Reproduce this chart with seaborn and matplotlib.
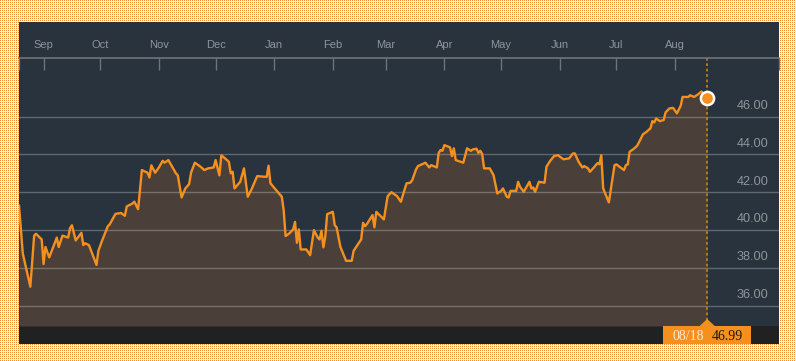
#%% Imports
import numpy as np
import pandas as pd
import matplotlib
matplotlib.use("Agg")
import matplotlib.pyplot as plt
import matplotlib.dates as mdates
import matplotlib.transforms as mtransforms
from matplotlib.patches import Rectangle, Polygon
import seaborn as sns

#%% Data (one year of closing prices)
dates = [
    "2016-08-19", "2016-08-21", "2016-08-25", "2016-08-27", "2016-08-28", "2016-08-31",
    "2016-09-01", "2016-09-02", "2016-09-04", "2016-09-08", "2016-09-09", "2016-09-11",
    "2016-09-14", "2016-09-15", "2016-09-16", "2016-09-18", "2016-09-21", "2016-09-22",
    "2016-09-23", "2016-09-25", "2016-09-29", "2016-09-30", "2016-10-02", "2016-10-05",
    "2016-10-06", "2016-10-09", "2016-10-12", "2016-10-14", "2016-10-15", "2016-10-18",
    "2016-10-19", "2016-10-21", "2016-10-23", "2016-10-26", "2016-10-27", "2016-10-28",
    "2016-10-30", "2016-11-01", "2016-11-03", "2016-11-04", "2016-11-06", "2016-11-08",
    "2016-11-10", "2016-11-11", "2016-11-13", "2016-11-15", "2016-11-17", "2016-11-18",
    "2016-11-20", "2016-11-23", "2016-11-25", "2016-11-27", "2016-11-30", "2016-12-01",
    "2016-12-03", "2016-12-04", "2016-12-06", "2016-12-08", "2016-12-09", "2016-12-10",
    "2016-12-11", "2016-12-14", "2016-12-16", "2016-12-18", "2016-12-20", "2016-12-23",
    "2016-12-28", "2016-12-29", "2016-12-30", "2017-01-02", "2017-01-05", "2017-01-06",
    "2017-01-07", "2017-01-09", "2017-01-11", "2017-01-12", "2017-01-13", "2017-01-14",
    "2017-01-15", "2017-01-18", "2017-01-20", "2017-01-22", "2017-01-24", "2017-01-25",
    "2017-01-26", "2017-01-27", "2017-01-28", "2017-01-29", "2017-02-01", "2017-02-02",
    "2017-02-03", "2017-02-05", "2017-02-08", "2017-02-11", "2017-02-12", "2017-02-16",
    "2017-02-17", "2017-02-18", "2017-02-19", "2017-02-22", "2017-02-23", "2017-02-24",
    "2017-02-28", "2017-03-02", "2017-03-04", "2017-03-07", "2017-03-09", "2017-03-10",
    "2017-03-12", "2017-03-14", "2017-03-15", "2017-03-17", "2017-03-18", "2017-03-22",
    "2017-03-24", "2017-03-25", "2017-03-28", "2017-03-29", "2017-03-30", "2017-03-31",
    "2017-04-01", "2017-04-04", "2017-04-05", "2017-04-06", "2017-04-07", "2017-04-11",
    "2017-04-13", "2017-04-15", "2017-04-16", "2017-04-18", "2017-04-19", "2017-04-20",
    "2017-04-21", "2017-04-22", "2017-04-25", "2017-04-27", "2017-04-29", "2017-05-01",
    "2017-05-02", "2017-05-04", "2017-05-05", "2017-05-06", "2017-05-09", "2017-05-10",
    "2017-05-11", "2017-05-13", "2017-05-16", "2017-05-17", "2017-05-18", "2017-05-19",
    "2017-05-21", "2017-05-24", "2017-05-25", "2017-05-27", "2017-05-29", "2017-05-31",
    "2017-06-03", "2017-06-06", "2017-06-08", "2017-06-09", "2017-06-11", "2017-06-13",
    "2017-06-14", "2017-06-16", "2017-06-17", "2017-06-19", "2017-06-21", "2017-06-22",
    "2017-06-23", "2017-06-24", "2017-06-27", "2017-06-30", "2017-07-01", "2017-07-05",
    "2017-07-06", "2017-07-07", "2017-07-08", "2017-07-10", "2017-07-12", "2017-07-14",
    "2017-07-15", "2017-07-17", "2017-07-19", "2017-07-20", "2017-07-21", "2017-07-22",
    "2017-07-24", "2017-07-26", "2017-07-27", "2017-07-29", "2017-07-31", "2017-08-02",
    "2017-08-04", "2017-08-05", "2017-08-08", "2017-08-09", "2017-08-11", "2017-08-13",
    "2017-08-15", "2017-08-18",
]
prices = [
    41.30, 38.76, 37.00, 39.70, 39.80, 39.50,
    38.20, 39.10, 38.55, 39.60, 39.10, 39.70,
    39.60, 40.10, 40.25, 39.45, 39.85, 39.20,
    39.30, 39.20, 38.15, 38.90, 39.45, 40.20,
    40.30, 40.85, 40.90, 40.75, 41.25, 41.40,
    41.50, 41.10, 43.17, 43.03, 42.78, 43.42,
    43.03, 43.31, 43.66, 43.56, 43.70, 43.35,
    43.00, 42.89, 41.72, 42.20, 42.43, 43.03,
    43.56, 43.35, 43.17, 43.26, 43.31, 43.70,
    42.89, 43.95, 43.79, 43.61, 43.00, 43.08,
    42.20, 42.55, 43.26, 41.76, 42.15, 42.85,
    42.81, 43.40, 42.47, 42.11, 41.76, 41.05,
    39.68, 39.82, 40.03, 40.43, 39.32, 40.03,
    38.97, 38.97, 38.67, 39.99, 39.60, 39.50,
    39.96, 39.08, 39.64, 40.84, 40.96, 40.26,
    40.14, 39.11, 38.37, 38.37, 38.90, 39.50,
    40.38, 40.20, 40.31, 40.79, 40.14, 40.96,
    40.56, 41.79, 42.00, 41.79, 41.49, 41.83,
    42.47, 42.50, 42.64, 43.20, 43.38, 43.56,
    43.31, 43.43, 43.31, 44.08, 44.23, 44.19,
    44.49, 44.37, 43.91, 44.32, 43.70, 43.56,
    44.32, 44.19, 44.26, 44.30, 44.08, 44.19,
    44.02, 43.26, 43.26, 42.90, 41.93, 42.07,
    42.20, 41.76, 41.72, 42.07, 42.07, 42.55,
    42.29, 42.02, 42.55, 42.20, 42.25, 42.02,
    42.55, 42.50, 43.35, 43.66, 43.91, 43.96,
    43.74, 43.79, 44.05, 44.05, 43.61, 43.31,
    43.38, 43.26, 43.08, 43.30, 43.54, 43.48,
    43.96, 42.20, 41.46, 43.43, 43.47, 43.17,
    43.43, 43.47, 44.14, 44.28, 44.46, 44.85,
    45.06, 45.20, 45.38, 45.76, 45.69, 45.90,
    45.76, 45.82, 46.22, 46.43, 46.46, 46.17,
    46.57, 47.04, 47.04, 47.13, 47.04, 47.16,
    47.33, 46.99,
]
month_ticks = pd.date_range("2016-09-01", "2017-08-01", freq="MS")
y_levels = [36, 38, 40, 42, 44, 46]
x_range = (pd.Timestamp("2016-08-19"), pd.Timestamp("2017-09-25"))
y_range = (34.92, 49.1)

df = pd.DataFrame({"date": pd.to_datetime(dates), "price": prices})
last_date = df["date"].iloc[-1]
last_price = df["price"].iloc[-1]

#%% Style
sns.set_style("dark")
plt.rcParams["font.family"] = ["Liberation Sans", "DejaVu Sans"]

panel_col = "#29333e"
bar_col = "#212121"
orange = "#f5901e"
fill_col = "#4a4039"
label_col = "#8e949a"
axis_col = "#6e7378"

fig = plt.figure(figsize=(7.96, 3.61), dpi=100)

# dotted orange background outside the panel
h, w = 361, 796
bg = np.ones((h, w, 3))
dots = np.zeros((h, w), dtype=bool)
dots[::2, ::2] = True
bg[dots] = np.array([238, 140, 50]) / 255
fig.figimage(bg, xo=0, yo=0, zorder=-3)

# dark panel + bottom bar
fig.add_artist(Rectangle((19 / w, 17 / h), 760 / w, 322 / h, transform=fig.transFigure,
                         facecolor=panel_col, edgecolor="none", zorder=-2))
fig.add_artist(Rectangle((19 / w, 17 / h), 760 / w, 18 / h, transform=fig.transFigure,
                         facecolor=bar_col, edgecolor="none", zorder=-1))

ax = fig.add_axes([19 / w, 35 / h, 760 / w, 268 / h])
ax.set_facecolor(panel_col)

#%% Price line with filled area
ax.fill_between(df["date"], df["price"], y_range[0], color=fill_col, lw=0, zorder=1)
for lvl in y_levels:
    ax.axhline(lvl, color="#d8d8d8", alpha=0.32, lw=1, zorder=1.5)
sns.lineplot(data=df, x="date", y="price", ax=ax, color=orange, lw=1.7, zorder=3)

ax.axvline(last_date, color="#b9801f", ls=(0, (1.5, 1.5)), lw=1.3, zorder=2.5)
ax.plot([last_date], [last_price], "o", ms=9.5, mfc=orange, mec="white", mew=1.8, zorder=5)

ax.set_xlim(*x_range)
ax.set_ylim(*y_range)

#%% Axes: month ticks on top, price labels on the right
ax.xaxis.tick_top()
ax.set_xticks(month_ticks)
ax.xaxis.set_major_formatter(mdates.DateFormatter("%b"))
ax.set_xticks(list(x_range), minor=True)
ax.tick_params(axis="x", which="both", direction="in", length=8.6, width=1,
               color=axis_col, labelcolor=label_col, labelsize=8, pad=5.8)
ax.set_yticks([])
ax.set_xlabel("")
ax.set_ylabel("")
for side in ["left", "right", "bottom"]:
    ax.spines[side].set_visible(False)
ax.spines["top"].set_color(axis_col)
ax.spines["top"].set_linewidth(1.2)
ax.grid(False)

for lvl in y_levels:
    ax.annotate(f"{lvl:.2f}", xy=(1, lvl), xycoords=("axes fraction", "data"),
                xytext=(-7.7, 5.5), textcoords="offset points", ha="right",
                va="baseline", fontsize=9.2, color=label_col)

#%% Last value tag at the bottom
blend = mtransforms.blended_transform_factory(ax.transData, ax.transAxes)
n = mdates.date2num(last_date)
ax.add_patch(Rectangle((n - 23.4, -18 / 268), 46.7, 18 / 268, transform=blend,
                       facecolor=orange, edgecolor="none", clip_on=False, zorder=6))
ax.add_patch(Polygon([(n - 4, 0), (n, 7 / 268), (n + 4, 0)], closed=True, transform=blend,
                     facecolor=orange, edgecolor="none", clip_on=False, zorder=6))
serif = ["Liberation Serif", "DejaVu Serif"]
ax.annotate(last_date.strftime("%m/%d"), xy=(n, 0), xycoords=blend, xytext=(-13.9, -9.8),
            textcoords="offset points", ha="center", va="baseline", fontsize=10,
            family=serif, color="#fbe9d4", zorder=7, annotation_clip=False)
ax.annotate(f"{last_price:.2f}", xy=(n, 0), xycoords=blend, xytext=(14.2, -9.8),
            textcoords="offset points", ha="center", va="baseline", fontsize=10,
            family=serif, color="#1a1a1a", zorder=7, annotation_clip=False)

fig.savefig("out.png", dpi=100)
